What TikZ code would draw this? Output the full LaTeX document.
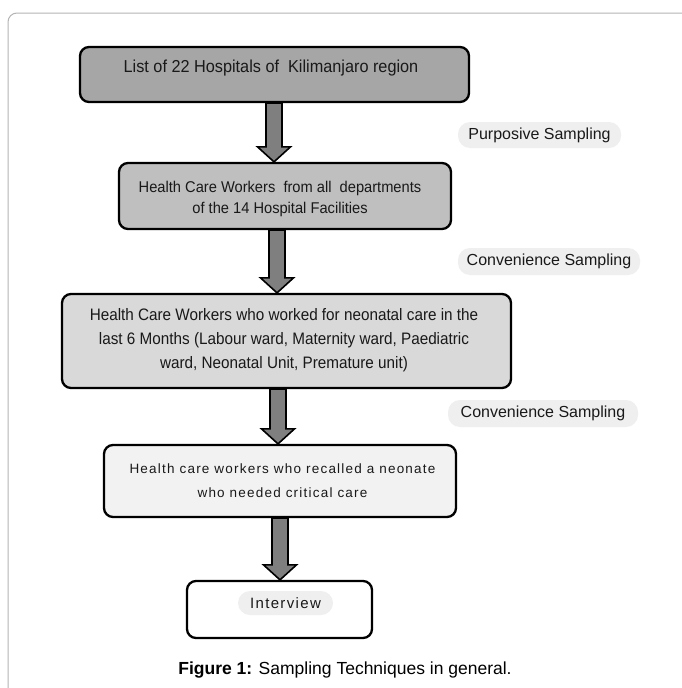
\documentclass[tikz,border=0pt]{standalone}
\usepackage{fontspec}
\setmainfont{Liberation Sans}
\newfontfamily\spacedfont[LetterSpace=9]{Liberation Sans}
\newfontfamily\narrowfont[FakeStretch=0.94]{Liberation Sans}
\newfontfamily\narrowerfont[FakeStretch=0.92]{Liberation Sans}
\usetikzlibrary{calc}
\definecolor{fillA}{HTML}{A6A6A6}
\definecolor{fillB}{HTML}{BFBFBF}
\definecolor{fillC}{HTML}{D9D9D9}
\definecolor{fillD}{HTML}{F2F2F2}
\definecolor{pillgray}{HTML}{EFEFEF}
\definecolor{arrowgray}{HTML}{7F7F7F}
\definecolor{framegray}{HTML}{B4B4B4}
\newcommand\blockarrow[3]{%
  \draw[barrow] let \p1=(#1.south), \p2=(#2.north) in
    (#3pt-8pt,\y1) -- (#3pt+8pt,\y1) -- (#3pt+8pt,\y2+15pt) -- (#3pt+16.5pt,\y2+15pt)
    -- (#3pt,\y2) -- (#3pt-16.5pt,\y2+15pt) -- (#3pt-8pt,\y2+15pt) -- cycle;}
\begin{document}
\begin{tikzpicture}[x=1pt,y=-1pt,
  box/.style={draw=black, line width=2.3pt, rounded corners=9pt, inner sep=0pt},
  txt/.style={align=center, text=black!90, inner sep=0pt},
  pill/.style={fill=pillgray, rounded corners=12pt, inner sep=0pt, text=black!90,
    font=\fontsize{16}{16}\selectfont},
  barrow/.style={draw=black, line width=1.6pt, fill=arrowgray, line join=miter}]
\useasboundingbox[fill=white] (0,0) rectangle (681,688);
\draw[framegray, line width=1pt, rounded corners=9pt] (700,13) -- (8,13) -- (8,700);

% boxes
\node[box, fill=fillA, minimum width=389pt, minimum height=55pt] (b1) at (274.5,74.5) {};
\node[box, fill=fillB, minimum width=332pt, minimum height=66pt] (b2) at (285,196) {};
\node[box, fill=fillC, minimum width=449pt, minimum height=94pt] (b3) at (286.5,341) {};
\node[box, fill=fillD, minimum width=352pt, minimum height=72pt] (b4) at (280,481) {};
\node[box, fill=white, minimum width=185pt, minimum height=57pt] (b5) at (279.5,609.5) {};

% texts
\node[txt, font=\narrowfont\fontsize{17.3}{20}\selectfont] (t1) at (271,68) {List of 22 Hospitals of~ Kilimanjaro region};
\node[txt, font=\narrowfont\fontsize{15.6}{21}\selectfont] (t2) at (280,198.5) {Health Care Workers~ from all~ departments\\of the 14 Hospital Facilities};
\node[txt, font=\narrowerfont\fontsize{16.6}{24}\selectfont] (t3) at (284,340) {Health Care Workers who worked for neonatal care in the\\last 6 Months (Labour ward, Maternity ward, Paediatric\\ward, Neonatal Unit, Premature unit)};
\node[txt, font=\spacedfont\fontsize{13.5}{24}\selectfont] (t4) at (282.5,481) {Health care workers who recalled a neonate\\who needed critical care};

% labels
\node[pill, minimum width=163pt, minimum height=26pt] (l1) at (539.5,135) {Purposive Sampling};
\node[pill, minimum width=182pt, minimum height=27pt] (l2) at (549,261.5) {Convenience Sampling};
\node[pill, minimum width=190pt, minimum height=27pt] (l3) at (543,413.5) {Convenience Sampling};
\node[pill, minimum width=95pt, minimum height=24pt, font=\spacedfont\fontsize{15}{15}\selectfont] (l4) at (285.5,603) {Interview};

% arrows
\blockarrow{b1}{b2}{274}
\blockarrow{b2}{b3}{277}
\blockarrow{b3}{b4}{278}
\blockarrow{b4}{b5}{280}

% caption
\node[txt, text=black, font=\fontsize{17.5}{20}\selectfont] (cap) at (345,670) {\textbf{Figure 1:} Sampling Techniques in general.};
\end{tikzpicture}
\end{document}
